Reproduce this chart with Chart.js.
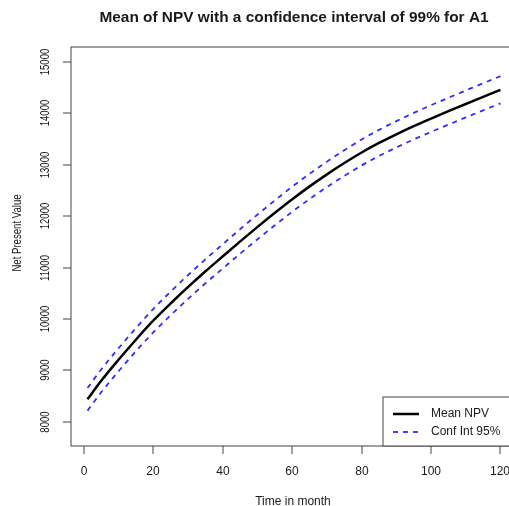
<!DOCTYPE html>
<html>
<head>
<meta charset="utf-8">
<script src="https://cdn.jsdelivr.net/npm/chart.js@4.4.0/dist/chart.umd.min.js"></script>
<style>
  html, body { margin: 0; padding: 0; background: #fff; overflow: hidden; }
  #wrap { width: 530px; height: 506px; }
</style>
</head>
<body>
<div id="wrap"><canvas id="npvChart" width="530" height="506"></canvas></div>
<script>
// data (months 1..120)
const months   = [1, 5, 10, 15, 20, 25, 30, 35, 40, 45, 50, 55, 60, 65, 70, 75, 80, 85, 90, 95, 100, 105, 110, 115, 120];
const meanNpv  = [8436, 8800, 9210, 9600, 9970, 10305, 10623, 10928, 11220, 11510, 11792, 12066, 12330, 12580, 12814, 13034, 13240, 13426, 13594, 13752, 13900, 14044, 14184, 14324, 14460];
const upperCi  = [8656, 9022, 9434, 9826, 10198, 10535, 10855, 11162, 11456, 11748, 12032, 12308, 12574, 12826, 13062, 13284, 13492, 13680, 13850, 14010, 14160, 14305, 14446, 14588, 14725];
const lowerCi  = [8216, 8578, 8986, 9374, 9742, 10075, 10391, 10694, 10984, 11272, 11552, 11824, 12086, 12334, 12566, 12784, 12988, 13172, 13338, 13494, 13640, 13783, 13922, 14060, 14195];
const xTicks   = [0, 20, 40, 60, 80, 100, 120];
const yTicks   = [8000, 9000, 10000, 11000, 12000, 13000, 14000, 15000];
const legendLabels = ['Mean NPV', 'Conf Int 95%'];

const FONT = '"Liberation Sans", Arial, sans-serif';
const BLUE = 'rgb(45, 45, 255)';

function pts(vals) {
  return months.map((m, i) => ({ x: m, y: vals[i] }));
}

// rotated text, squeezed a bit along its length like the reference
function vText(ctx, txt, x, y) {
  ctx.save();
  ctx.translate(x, y);
  ctx.rotate(-Math.PI / 2);
  ctx.scale(0.8, 1);
  ctx.fillText(txt, 0, 0);
  ctx.restore();
}

// R-like frame, axes, titles and legend
const rPlot = {
  id: 'rPlot',
  afterDraw(chart) {
    const ctx = chart.ctx;
    const a = chart.chartArea;
    const xs = chart.scales.x, ys = chart.scales.y;
    ctx.save();
    ctx.strokeStyle = '#444';
    ctx.lineWidth = 1;
    ctx.strokeRect(Math.round(a.left), Math.round(a.top), Math.round(a.right - a.left), Math.round(a.bottom - a.top));

    ctx.fillStyle = '#1a1a1a';
    ctx.font = '12px ' + FONT;
    // x axis
    ctx.textAlign = 'center';
    ctx.textBaseline = 'middle';
    xTicks.forEach(v => {
      const px = Math.round(xs.getPixelForValue(v));
      ctx.beginPath();
      ctx.moveTo(px, a.bottom);
      ctx.lineTo(px, a.bottom + 8);
      ctx.stroke();
      ctx.fillText(String(v), px, 472);
    });
    // y axis
    yTicks.forEach(v => {
      const py = Math.round(ys.getPixelForValue(v));
      ctx.beginPath();
      ctx.moveTo(a.left, py);
      ctx.lineTo(a.left - 8, py);
      ctx.stroke();
      vText(ctx, String(v), 46, py);
    });
    // axis titles
    ctx.fillText('Time in month', 293, 502);
    vText(ctx, 'Net Present Value', 18, 233);
    // main title
    ctx.save();
    ctx.font = 'bold 15.4px ' + FONT;
    ctx.translate(294, 18);
    ctx.scale(1, 0.9);
    ctx.fillText('Mean of NPV with a confidence interval of 99% for A1', 0, 0);
    ctx.restore();

    // legend
    ctx.fillStyle = '#fff';
    ctx.fillRect(383, 397, 160, Math.round(a.bottom) - 397);
    ctx.strokeRect(383, 397, 160, Math.round(a.bottom) - 397);
    ctx.lineWidth = 2.5;
    ctx.strokeStyle = '#000';
    ctx.beginPath(); ctx.moveTo(393, 414); ctx.lineTo(419, 414); ctx.stroke();
    ctx.lineWidth = 1.8;
    ctx.strokeStyle = BLUE;
    ctx.setLineDash([5, 5]);
    ctx.beginPath(); ctx.moveTo(393, 432); ctx.lineTo(421, 432); ctx.stroke();
    ctx.setLineDash([]);
    ctx.fillStyle = '#1a1a1a';
    ctx.font = '12px ' + FONT;
    ctx.textAlign = 'left';
    ctx.fillText(legendLabels[0], 431, 414);
    ctx.fillText(legendLabels[1], 431, 432);
    ctx.restore();
  }
};

new Chart(document.getElementById('npvChart'), {
  type: 'line',
  data: {
    datasets: [
      { label: 'Upper', data: pts(upperCi), borderColor: BLUE, borderWidth: 1.8, borderDash: [5, 5], pointRadius: 0, cubicInterpolationMode: 'monotone', fill: false },
      { label: 'Lower', data: pts(lowerCi), borderColor: BLUE, borderWidth: 1.8, borderDash: [5, 5], pointRadius: 0, cubicInterpolationMode: 'monotone', fill: false },
      { label: legendLabels[0], data: pts(meanNpv), borderColor: '#000', borderWidth: 2.5, pointRadius: 0, cubicInterpolationMode: 'monotone', fill: false }
    ]
  },
  options: {
    responsive: false,
    animation: false,
    layout: { padding: { left: 71, top: 47, right: 13, bottom: 60 } },
    plugins: { legend: { display: false }, tooltip: { enabled: false } },
    scales: {
      x: { type: 'linear', min: -3.76, max: 124.76, display: false },
      y: { type: 'linear', min: 7527, max: 15293, display: false }
    }
  },
  plugins: [rPlot]
});
</script>
</body>
</html>
